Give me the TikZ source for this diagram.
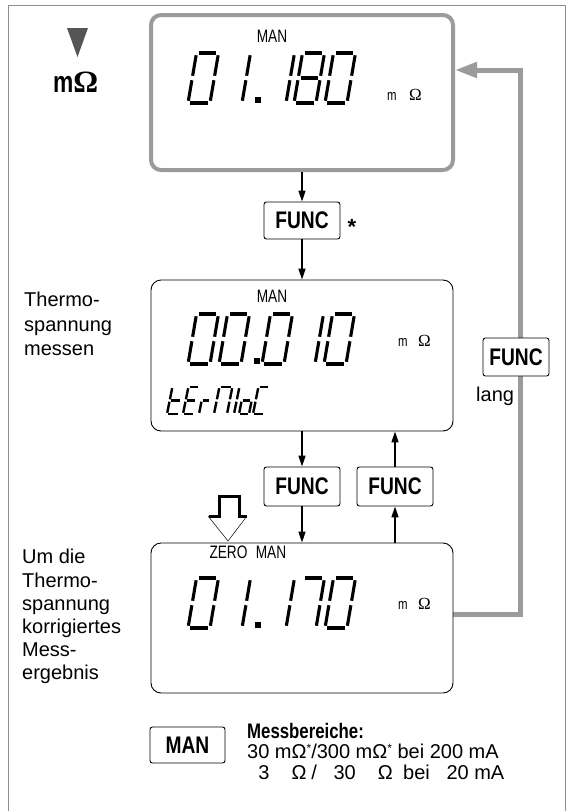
\documentclass[tikz,border=0pt]{standalone}
\usepackage{fontspec}
\setmainfont{Liberation Sans}
\newfontfamily\serifOm{Liberation Serif}
\newfontfamily\condB[FakeStretch=0.8]{Liberation Sans}
\newfontfamily\condL[FakeStretch=0.76]{Liberation Sans}
\usetikzlibrary{arrows.meta,backgrounds}
\definecolor{lgray}{HTML}{9B9B9B}
\definecolor{fgray}{HTML}{8F8F8F}
\definecolor{dgray}{HTML}{555555}
\newcommand\fs[1]{\fontsize{#1}{#1}\selectfont}
\newcommand\astx{\raisebox{6pt}{\fs{12}*}}
\def\SSGa{\draw (\gp,\hh) -- ({\ww-\gp},\hh);}
\def\SSGb{\draw (\ww,{\hh-\gp}) -- (\ww,{\hh/2+\gp});}
\def\SSGc{\draw (\ww,{\hh/2-\gp}) -- (\ww,\gp);}
\def\SSGd{\draw (\gp,0) -- ({\ww-\gp},0);}
\def\SSGe{\draw (0,\gp) -- (0,{\hh/2-\gp});}
\def\SSGf{\draw (0,{\hh/2+\gp}) -- (0,{\hh-\gp});}
\def\SSGg{\draw (\gp,{\hh/2}) -- ({\ww-\gp},{\hh/2});}
\newcommand\sevdig[7]{%
  \begin{scope}[shift={(#1,#2)},x={(1pt,0pt)},y={(#5pt,1pt)},line width=#6pt,line cap=butt]
  \def\ww{#3}\def\hh{#4}\pgfmathsetmacro\gp{#4*0.045}%
  \foreach \sg in {#7}{\csname SSG\sg\endcsname}%
  \end{scope}}
\newcommand\bigdig[3]{\sevdig{#1}{#2}{22}{50}{0.17}{3.1}{#3}}
\newcommand\smdig[4]{\sevdig{#1}{#2}{#3}{27}{0.2}{2.4}{#4}}
\begin{document}
\begin{tikzpicture}[x=1pt,y=-1pt,
  disp/.style={draw,line width=0.9pt,rounded corners=10pt,fill=white,inner sep=0pt},
  key/.style={draw,line width=0.9pt,rounded corners=2.5pt,fill=white,inner sep=0pt,font={\condB\bfseries\fs{24}}},
  arr/.style={line width=1.3pt,-{Triangle[length=11pt,width=7pt]}},
  gline/.style={draw=lgray,line width=5pt,line join=miter,-{Triangle[length=22pt,width=15pt]}},
  lbl/.style={anchor=base west,inner sep=0pt,font={\fs{20}}},
  lg/.style={anchor=base west,inner sep=0pt,font={\fs{20}}},
  dlab/.style={anchor=base,inner sep=0pt,font={\condL\fs{18}}},
  dm/.style={anchor=base west,inner sep=0pt,font={\condL\fs{15}}},
  dO/.style={anchor=base west,inner sep=0pt,font={\serifOm\fs{17}}}]
\useasboundingbox (0,0) rectangle (569,811);
\draw[fgray,line width=1pt] (8,811) |- (565,5) -- (565,811);

% displays
\node[disp,draw=lgray,line width=4pt,minimum width=302pt,minimum height=155pt] (d1) at (302,92.5) {};
\node[disp,minimum width=302pt,minimum height=151pt] (d2) at (302,355.5) {};
\node[disp,minimum width=302pt,minimum height=150pt] (d3) at (302,618) {};

% keys
\node[key,minimum width=76pt,minimum height=37pt] (f1) at (302,220.5) {FUNC};
\node[key,minimum width=76pt,minimum height=39pt] (f2) at (302,486.5) {FUNC};
\node[key,minimum width=76pt,minimum height=39pt] (f3) at (395,486.5) {FUNC};
\node[key,minimum width=66pt,minimum height=38pt] (f4) at (516,357) {FUNC};
\node[key,minimum width=75pt,minimum height=36pt] (man) at (187.5,745) {MAN};
\node[anchor=base,inner sep=0pt,font={\bfseries\fs{22}}] (star) at (352,234) {*};
\node[lbl] (lang) at (476,401) {lang};

% grey return line
\coordinate (g0) at ([yshift=4pt]d3.east);
\coordinate (g3) at ([yshift=22.5pt]d1.east);
\coordinate (gx) at (520,0);
\begin{pgfonlayer}{background}
\draw[gline] (g0) -- (g0 -| gx) -- (g3 -| gx) -- (g3);
\end{pgfonlayer}

% black arrows
\draw[arr] (d1.south) -- (f1.north);
\draw[arr] (f1.south) -- (d2.north);
\draw[arr] (d2.south) -- (f2.north);
\draw[arr] (f2.south) -- (d3.north);
\draw[arr] (d3.north -| f3.center) -- (f3.south);
\draw[arr] (f3.north) -- (d2.south -| f3.center);

% top-left symbol
\fill[dgray] (67,28) -- (88,28) -- (77.5,57) -- cycle;
\node[anchor=base west,inner sep=0pt] (mohm) at (53,92) {{\condL\bfseries\fs{30}m}{\serifOm\bfseries\fs{31}Ω}};

% display 1
\node[dlab] (man1) at (272,42) {MAN};
\bigdig{188}{103}{a,b,c,d,e,f}
\bigdig{220}{103}{b,c}
\fill (255,97) rectangle (261,103);
\bigdig{264}{103}{b,c}
\bigdig{294}{103}{a,b,c,d,e,f,g}
\bigdig{325}{103}{a,b,c,d,e,f}
\node[dm] (u1m) at (387,100) {m};
\node[dO] (u1o) at (409,100) {Ω};

% display 2
\node[dlab] (man2) at (272,302) {MAN};
\bigdig{188}{364}{a,b,c,d,e,f}
\bigdig{219}{364}{a,b,c,d,e,f}
\fill (254,358) rectangle (260,364);
\bigdig{262}{364}{a,b,c,d,e,f}
\bigdig{293}{364}{b,c}
\bigdig{324}{364}{a,b,c,d,e,f}
\node[dm] (u2m) at (398,346) {m};
\node[dO] (u2o) at (418,346) {Ω};
\smdig{167}{414}{12}{d,e,f,g}
\smdig{183}{414}{11}{a,d,e,f,g}
\smdig{199}{414}{9}{e,g}
\smdig{214}{414}{13}{a,b,c,e,f}
\smdig{234}{414}{1}{e,f}
\smdig{239}{414}{10}{c,d,e,g}
\smdig{253}{414}{11}{a,d,e,f}

% display 3
\node[dlab] (zero) at (228.5,558) {ZERO};
\node[dlab] (man3) at (271,558) {MAN};
\bigdig{188}{628}{a,b,c,d,e,f}
\bigdig{220}{628}{b,c}
\fill (255,622) rectangle (261,628);
\bigdig{264}{628}{b,c}
\bigdig{294}{628}{a,b,c}
\bigdig{325}{628}{a,b,c,d,e,f}
\node[dm] (u3m) at (398,609) {m};
\node[dO] (u3o) at (418,609) {Ω};

% zero symbol
\draw[line width=3pt] (209,516) -- (219,516) -- (219,496) -- (239,496) -- (239,516) -- (247,516);
\draw[line width=0.5pt] (208,516) -- (228,541) -- (247,516);

% left texts
\node[lbl] (a1) at (24,306) {Thermo-};
\node[lbl] (a2) at (24,331) {spannung};
\node[lbl] (a3) at (24,355) {messen};
\node[lbl] (b1) at (22,563) {Um die};
\node[lbl] (b2) at (22,587) {Thermo-};
\node[lbl] (b3) at (22,610) {spannung};
\node[lbl] (b4) at (22,633) {korrigiertes};
\node[lbl] (b5) at (22,656) {Mess-};
\node[lbl] (b6) at (22,679) {ergebnis};

% legend
\node[lg,font={\condB\bfseries\fs{21}}] (mb) at (247,738) {Messbereiche:};
\node[lg] (l2) at (247,758) {30 mΩ\astx/300 mΩ\astx{} bei 200 mA};
\node[lg] (l3) at (247,779) {\phantom{3}3 \phantom{m}Ω\phantom{\astx}/ \phantom{3}30 \phantom{m}Ω\phantom{\astx}{} bei \phantom{2}20 mA};
\end{tikzpicture}
\end{document}
